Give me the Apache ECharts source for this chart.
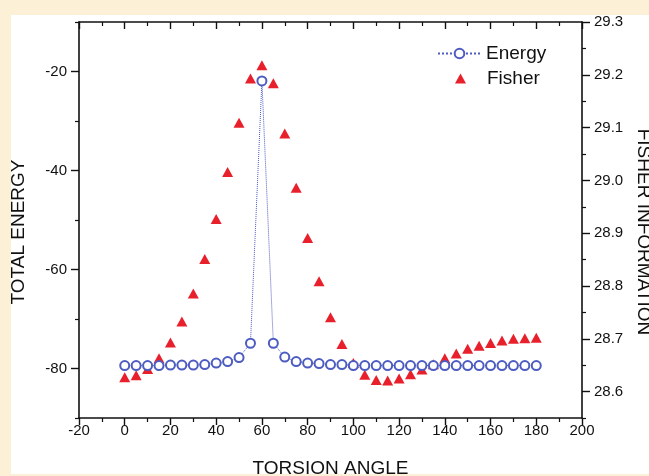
<!DOCTYPE html>
<html>
<head>
<meta charset="utf-8">
<script src="https://cdn.jsdelivr.net/npm/echarts@6/dist/echarts.min.js"></script>
<style>
  html, body { margin: 0; padding: 0; background: #fcf1d6; }
  #chart { width: 649px; height: 476px; }
</style>
</head>
<body>
<div id="chart"></div>
<script>
// torsion angle (deg)
const angles = [0, 5, 10, 15, 20, 25, 30, 35, 40, 45, 50, 55, 60, 65, 70, 75, 80, 85, 90,
  95, 100, 105, 110, 115, 120, 125, 130, 135, 140, 145, 150, 155, 160, 165, 170, 175, 180];
// total energy (left axis)
const energy = [-79.4, -79.4, -79.4, -79.4, -79.3, -79.3, -79.3, -79.2, -78.9, -78.6, -77.8,
  -74.9, -21.9, -74.9, -77.7, -78.6, -78.9, -79.0, -79.2, -79.2, -79.4, -79.4, -79.4, -79.4,
  -79.4, -79.4, -79.4, -79.4, -79.4, -79.4, -79.4, -79.4, -79.4, -79.4, -79.4, -79.4, -79.4];
// fisher information (right axis)
const fisher = [28.627, 28.631, 28.643, 28.663, 28.693, 28.733, 28.786, 28.851, 28.927, 29.016,
  29.109, 29.193, 29.218, 29.184, 29.089, 28.986, 28.891, 28.809, 28.741, 28.690, 28.654,
  28.632, 28.622, 28.621, 28.625, 28.633, 28.642, 28.652, 28.663, 28.672, 28.681, 28.687,
  28.692, 28.697, 28.700, 28.701, 28.702];

// tick values
const energyTicks = [-80, -60, -40, -20];
const energyMinor = [-90, -70, -50, -30, -10];
const fisherTicks = [28.6, 28.7, 28.8, 28.9, 29.0, 29.1, 29.2, 29.3];
const fisherMinor = [28.55, 28.65, 28.75, 28.85, 28.95, 29.05, 29.15, 29.25];

const blue = '#4d5cc0';
const red = '#e8202c';
const ink = '#111';
const font = 'Liberation Sans';

const chart = echarts.init(document.getElementById('chart'));

const axisLine = { show: true, onZero: false, lineStyle: { color: ink, width: 1.6 } };
const noLine = { show: false, onZero: false };

const option = {
  animation: false,
  textStyle: { fontFamily: font },
  graphic: [{
    type: 'rect', z: -10, silent: true,
    shape: { x: 11, y: 15, width: 638, height: 459 },
    style: { fill: '#fff' }
  }],
  grid: { left: 79, right: 67, top: 22, bottom: 58, containLabel: false, outerBoundsMode: 'none' },
  legend: [{
    orient: 'vertical', left: 437, top: 44, padding: 0,
    itemWidth: 43, itemHeight: 12,
    textStyle: { fontSize: 19, color: ink, fontFamily: font },
    data: ['Energy']
  }, {
    orient: 'vertical', left: 455, top: 69, padding: 0,
    itemWidth: 11, itemHeight: 10,
    textStyle: { fontSize: 19, color: ink, fontFamily: font, padding: [0, 0, 0, 16] },
    data: [{ name: 'Fisher', icon: 'triangle' }]
  }],
  xAxis: [{
    type: 'value', min: -20, max: 200, interval: 20,
    axisLine: axisLine,
    axisTick: { length: 7, lineStyle: { color: ink, width: 1.4 } },
    minorTick: { show: true, splitNumber: 2, length: 4, lineStyle: { color: ink, width: 1.2 } },
    axisLabel: { fontSize: 15, color: ink, margin: 5 },
    splitLine: { show: false },
    name: 'TORSION ANGLE', nameLocation: 'middle', nameGap: 41,
    nameTextStyle: { fontSize: 19, color: ink }
  }, {
    type: 'value', position: 'top', min: -20, max: 200, interval: 20,
    axisLine: axisLine,
    axisTick: { inside: true, length: 7, lineStyle: { color: ink, width: 1.4 } },
    minorTick: { show: true, splitNumber: 2, length: 4, lineStyle: { color: ink, width: 1.2 } },
    axisLabel: { show: false },
    splitLine: { show: false }
  }],
  yAxis: [{
    type: 'value', position: 'left', min: -90, max: -10,
    axisLine: axisLine,
    axisTick: { customValues: energyTicks, length: 8, lineStyle: { color: ink, width: 1.4 } },
    axisLabel: { customValues: energyTicks, fontSize: 15, color: ink, margin: 12 },
    splitLine: { show: false },
    name: 'TOTAL ENERGY', nameLocation: 'middle', nameGap: 51,
    nameTextStyle: { fontSize: 19, color: ink, padding: [0, 24, 0, 0] }
  }, {
    type: 'value', position: 'right', min: 28.55, max: 29.3,
    axisLine: axisLine,
    axisTick: { customValues: fisherTicks, length: 8, lineStyle: { color: ink, width: 1.4 } },
    axisLabel: {
      customValues: fisherTicks, fontSize: 15, color: ink, margin: 12,
      formatter: v => v.toFixed(1)
    },
    splitLine: { show: false },
    name: 'FISHER INFORMATION', nameLocation: 'middle', nameGap: 48, nameRotate: -90,
    nameTextStyle: { fontSize: 19, color: ink, padding: [0, 0, 0, 24] }
  }, {
    type: 'value', position: 'left', min: -90, max: -10,
    axisLine: noLine,
    axisTick: { customValues: energyMinor, length: 4, lineStyle: { color: ink, width: 1.2 } },
    axisLabel: { show: false },
    splitLine: { show: false }
  }, {
    type: 'value', position: 'right', min: 28.55, max: 29.3,
    axisLine: noLine,
    axisTick: { customValues: fisherMinor, length: 4, lineStyle: { color: ink, width: 1.2 } },
    axisLabel: { show: false },
    splitLine: { show: false }
  }],
  series: [{
    name: 'Energy', type: 'line', xAxisIndex: 0, yAxisIndex: 0,
    data: angles.map((a, i) => [a, energy[i]]),
    symbol: 'emptyCircle', symbolSize: 9, showAllSymbol: true,
    lineStyle: { color: blue, width: 1, type: 'dotted' },
    itemStyle: { color: blue, borderColor: blue, borderWidth: 1.2 }
  }, {
    name: 'Fisher', type: 'scatter', xAxisIndex: 0, yAxisIndex: 1,
    data: angles.map((a, i) => [a, fisher[i]]),
    symbol: 'triangle', symbolSize: [11, 10],
    itemStyle: { color: red, opacity: 1 }
  }]
};

chart.setOption(option);
</script>
</body>
</html>
